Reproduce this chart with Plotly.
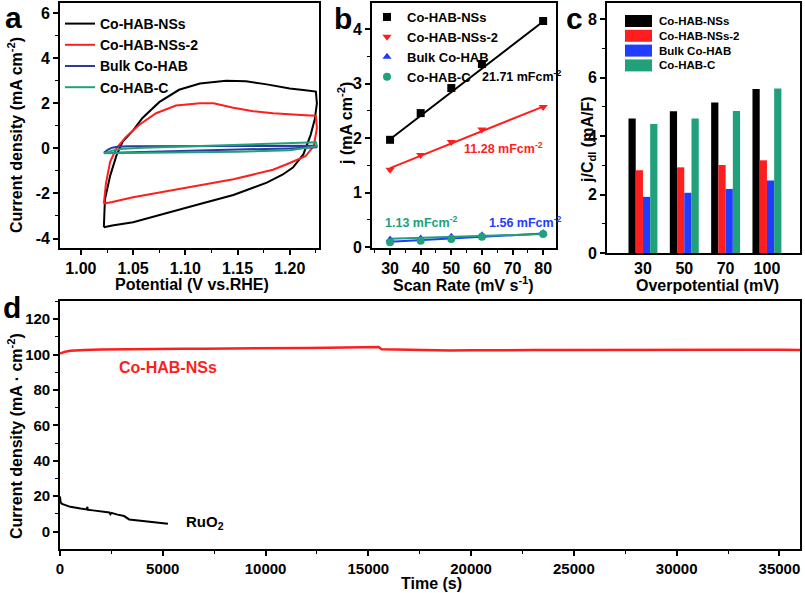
import plotly.graph_objects as go

W, H = 805, 593

# ---- panel a: CV loops (potential V vs RHE, current density mA cm-2)
cv_nss_x = [1.022, 1.023, 1.028, 1.034, 1.040, 1.050, 1.059, 1.075, 1.094, 1.114, 1.139, 1.158, 1.178, 1.200, 1.215, 1.225,
            1.226, 1.224, 1.220, 1.213, 1.203, 1.193, 1.178, 1.146, 1.114, 1.082, 1.050, 1.030, 1.022]
cv_nss_y = [-3.50, -2.27, -1.22, -0.32, 0.30, 0.80, 1.35, 2.05, 2.60, 2.88, 3.00, 2.98, 2.84, 2.66, 2.58, 2.52,
            2.00, 1.30, 0.60, -0.27, -0.85, -1.17, -1.52, -2.07, -2.47, -2.87, -3.28, -3.42, -3.50]
cv_nss2_x = [1.022, 1.024, 1.028, 1.034, 1.043, 1.056, 1.072, 1.091, 1.114, 1.127, 1.146, 1.165, 1.184, 1.200, 1.215, 1.225,
             1.226, 1.223, 1.215, 1.200, 1.184, 1.146, 1.114, 1.082, 1.050, 1.030, 1.022]
cv_nss2_y = [-2.45, -1.55, -0.60, 0.00, 0.50, 1.05, 1.56, 1.90, 2.00, 2.00, 1.80, 1.65, 1.56, 1.50, 1.47, 1.45,
             0.90, 0.10, -0.35, -0.65, -0.95, -1.37, -1.64, -1.90, -2.17, -2.38, -2.45]
cv_bulk_x = [1.022, 1.026, 1.030, 1.035, 1.045, 1.100, 1.150, 1.200, 1.225,
             1.226, 1.200, 1.150, 1.100, 1.050, 1.030, 1.022]
cv_bulk_y = [-0.20, -0.05, 0.03, 0.07, 0.09, 0.10, 0.10, 0.11, 0.12,
             0.05, 0.00, -0.05, -0.10, -0.15, -0.18, -0.20]
cv_c_x = [1.022, 1.030, 1.040, 1.060, 1.100, 1.150, 1.200, 1.225,
          1.226, 1.200, 1.150, 1.100, 1.050, 1.022]
cv_c_y = [-0.22, -0.10, -0.02, 0.03, 0.08, 0.15, 0.22, 0.27,
          0.10, -0.08, -0.15, -0.18, -0.21, -0.22]

# ---- panel b: j vs scan rate
scan_rate = [30, 40, 50, 60, 80]
j_nss = [1.97, 2.46, 2.92, 3.36, 4.15]
j_nss2 = [1.42, 1.69, 1.93, 2.16, 2.57]
j_bulk = [0.14, 0.16, 0.19, 0.22, 0.26]
j_c = [0.09, 0.12, 0.15, 0.19, 0.24]
fit_x = [30, 80]
fit_nss = [1.98, 4.14]
fit_nss2 = [1.45, 2.58]
fit_bulk = [0.10, 0.25]
fit_c = [0.155, 0.24]

# ---- panel c: j/Cdl at overpotentials
overpot = ["30", "50", "70", "100"]
jc_nss = [4.60, 4.85, 5.15, 5.61]
jc_nss2 = [2.83, 2.93, 3.01, 3.17]
jc_bulk = [1.92, 2.06, 2.19, 2.48]
jc_c = [4.41, 4.60, 4.86, 5.63]

# ---- panel d: chronoamperometry
t_nss = [0, 100, 250, 500, 800, 1200, 2000, 3000, 4000, 5000, 6000, 7000, 8000, 9000, 10000, 11000,
         12000, 13000, 14000, 15000, 15500, 15650, 16000, 17000, 18000, 19000, 20000, 21000, 22000,
         23000, 25000, 27000, 29000, 31000, 33000, 35000, 36000]
i_nss = [100.5, 101.0, 101.6, 102.1, 102.4, 102.6, 102.8, 103.0, 103.0, 103.1, 103.2, 103.3, 103.3, 103.4,
         103.5, 103.6, 103.7, 103.8, 104.1, 104.2, 104.2, 103.0, 102.9, 102.7, 102.5, 102.3, 102.4, 102.3,
         102.2, 102.5, 102.5, 102.6, 102.5, 102.6, 102.6, 102.7, 102.6]
t_ruo2 = [0, 30, 100, 500, 1000, 1300, 1330, 1360, 1600, 1980, 2400, 2450, 2500, 2800, 3120, 3365, 3940,
          4600, 5170, 5250]
i_ruo2 = [19.9, 16.5, 15.7, 14.0, 13.0, 12.5, 14.0, 12.3, 12.0, 11.6, 10.8, 9.8, 10.6, 9.6, 8.8, 6.9, 6.2,
          5.6, 5.0, 4.5]

names = ["Co-HAB-NSs", "Co-HAB-NSs-2", "Bulk Co-HAB", "Co-HAB-C"]
c_black, c_red, c_blue, c_green = "#000000", "#ff1e1e", "#1f3cff", "#21a07c"
c_blue_a = "#2b3c9e"

FONT = "Liberation Sans, Arial, sans-serif"


def dom_x(a, b):
    return [a / W, b / W]


def dom_y(top, bottom):
    return [1 - bottom / H, 1 - top / H]


def axis(domain, rng, anchor, tickfont=16, **kw):
    d = dict(domain=domain, range=rng, anchor=anchor, showline=True, linewidth=1.6, linecolor="black",
             mirror=True, ticks="outside", ticklen=5, tickwidth=1.5, tickcolor="black",
             showgrid=False, zeroline=False, automargin=False,
             tickfont=dict(family=FONT, size=tickfont, color="black", weight="bold"))
    d.update(kw)
    return d


def minor(step, start=0):
    return dict(ticks="outside", ticklen=3, tickwidth=1.2, dtick=step, tick0=start, tickcolor="black")


fig = go.Figure()

# panel a
for xs, ys, nm, col in [(cv_nss_x, cv_nss_y, names[0], c_black), (cv_nss2_x, cv_nss2_y, names[1], c_red),
                        (cv_bulk_x, cv_bulk_y, names[2], c_blue_a), (cv_c_x, cv_c_y, names[3], c_green)]:
    fig.add_trace(go.Scatter(x=xs, y=ys, mode="lines", name=nm, line=dict(color=col, width=2),
                             xaxis="x", yaxis="y", legend="legend"))

# panel b
for fy, col in [(fit_nss, c_black), (fit_nss2, c_red), (fit_bulk, c_blue), (fit_c, c_green)]:
    fig.add_trace(go.Scatter(x=fit_x, y=fy, mode="lines", line=dict(color=col, width=2), showlegend=False,
                             xaxis="x2", yaxis="y2"))
for ys, nm, col, sym in [(j_nss, names[0], c_black, "square"), (j_nss2, names[1], c_red, "triangle-down"),
                         (j_bulk, names[2], c_blue, "triangle-up"), (j_c, names[3], c_green, "circle")]:
    fig.add_trace(go.Scatter(x=scan_rate, y=ys, mode="markers", name=nm,
                             marker=dict(color=col, symbol=sym, size=8), xaxis="x2", yaxis="y2",
                             legend="legend2"))

# panel c (legend drawn by hand below)
bar_cols = [c_black, c_red, c_blue, c_green]
for ys, nm, col in zip([jc_nss, jc_nss2, jc_bulk, jc_c], names, bar_cols):
    fig.add_trace(go.Bar(x=list(range(len(overpot))), y=ys, name=nm, marker=dict(color=col, line_width=0),
                         xaxis="x3", yaxis="y3", showlegend=False))

# panel d
fig.add_trace(go.Scatter(x=t_nss, y=i_nss, mode="lines", line=dict(color=c_red, width=2.5), showlegend=False,
                         xaxis="x4", yaxis="y4"))
fig.add_trace(go.Scatter(x=t_ruo2, y=i_ruo2, mode="lines", line=dict(color="black", width=2), showlegend=False,
                         xaxis="x4", yaxis="y4"))

a_y_ticks = [-4, -2, 0, 2, 4, 6]
a_y_text = ["-4", "-2", "0", "2", "4", "6"]

fig.update_layout(
    width=W, height=H, margin=dict(l=0, r=0, t=0, b=0, autoexpand=False),
    paper_bgcolor="white", plot_bgcolor="white",
    font=dict(family=FONT, color="black"),
    barmode="group", bargap=0.3, bargroupgap=0,
    xaxis=axis(dom_x(60, 319), [0.980, 1.228], "y", dtick=0.05, tick0=1.0, tickformat=".2f",
               minor=minor(0.025, 1.0)),
    yaxis=axis(dom_y(3, 248), [-4.42, 6.45], "x", tickmode="array", tickvals=a_y_ticks, ticktext=a_y_text,
               minor=minor(1)),
    xaxis2=axis(dom_x(372, 556), [24.1, 84.2], "y2", dtick=10, tick0=30, minor=minor(5, 30)),
    yaxis2=axis(dom_y(3, 248), [-0.015, 4.48], "x2", dtick=1, tick0=0, minor=minor(0.5)),
    xaxis3=axis(dom_x(607, 800), [-0.87, 3.8], "y3", tickmode="array",
                tickvals=list(range(len(overpot))), ticktext=overpot, ticks=""),
    yaxis3=axis(dom_y(3, 253), [0, 8.55], "x3", dtick=2, tick0=0, minor=minor(1)),
    xaxis4=axis(dom_x(60, 800), [0, 36000], "y4", tickfont=15, dtick=5000, tick0=0, tickformat="d",
                minor=minor(2500)),
    yaxis4=axis(dom_y(301, 549), [-9.8, 130.2], "x4", tickfont=15, dtick=20, tick0=0, minor=minor(10)),
    legend=dict(x=60 / W, y=1 - 8 / H, xanchor="left", yanchor="top", bgcolor="rgba(0,0,0,0)",
                font=dict(family=FONT, size=14, color="black", weight="bold"), itemwidth=30, tracegroupgap=0),
    legend2=dict(x=367 / W, y=1 - 2 / H, xanchor="left", yanchor="top", bgcolor="rgba(0,0,0,0)",
                 font=dict(family=FONT, size=13, color="black", weight="bold"), itemwidth=30),
)


def label(text, x, y, size, color="black", xanchor="center", angle=0):
    fig.add_annotation(text=text, x=x / W, y=1 - y / H, xref="paper", yref="paper", showarrow=False,
                       xanchor=xanchor, yanchor="middle", textangle=angle,
                       font=dict(family=FONT, size=size, color=color, weight="bold"))


# panel letters
label("a", 13, 17, 30)
label("b", 343, 18, 30)
label("c", 574, 18, 30)
label("d", 12, 307, 30)

# axis titles
label("Potential (V vs.RHE)", 192, 284, 16)
label("Current density (mA cm<sup>-2</sup>)", 15, 135, 16, angle=-90)
label("Scan Rate (mV s<sup>-1</sup>)", 464, 284, 16)
label("j (mA cm<sup>-2</sup>)", 345, 124, 16, angle=-90)
label("Overpotential (mV)", 707, 285, 16)
label("j/C<sub>dl</sub> (mA/F)", 589, 140, 16, angle=-90)
label("Time (s)", 431, 583, 16)
label("Current density (mA · cm<sup>-2</sup>)", 15, 436, 16, angle=-90)

# slope and curve labels
label("21.71 mFcm<sup>-2</sup>", 480, 76, 12.5, xanchor="left")
label("11.28 mFcm<sup>-2</sup>", 462, 148, 12.5, c_red, xanchor="left")
label("1.13 mFcm<sup>-2</sup>", 383, 222, 12.5, c_green, xanchor="left")
label("1.56 mFcm<sup>-2</sup>", 487, 222, 12.5, c_blue, xanchor="left")
label("Co-HAB-NSs", 168, 367, 16, c_red)
label("RuO<sub>2</sub>", 205, 522, 15)

# legend of panel c
for i, (nm, col) in enumerate(zip(names, bar_cols)):
    yc = 21 + i * 14.8
    fig.add_shape(type="rect", xref="paper", yref="paper", x0=625 / W, x1=652 / W,
                  y0=1 - (yc + 6) / H, y1=1 - (yc - 6) / H, fillcolor=col, line_width=0)
    label(nm, 657, yc, 11.5, xanchor="left")

# the page body has an 8px default margin; remove it so the figure sits at the window origin
fig.write_html("out.html", config={"displayModeBar": False},
               post_script="document.body.style.margin='0';")
